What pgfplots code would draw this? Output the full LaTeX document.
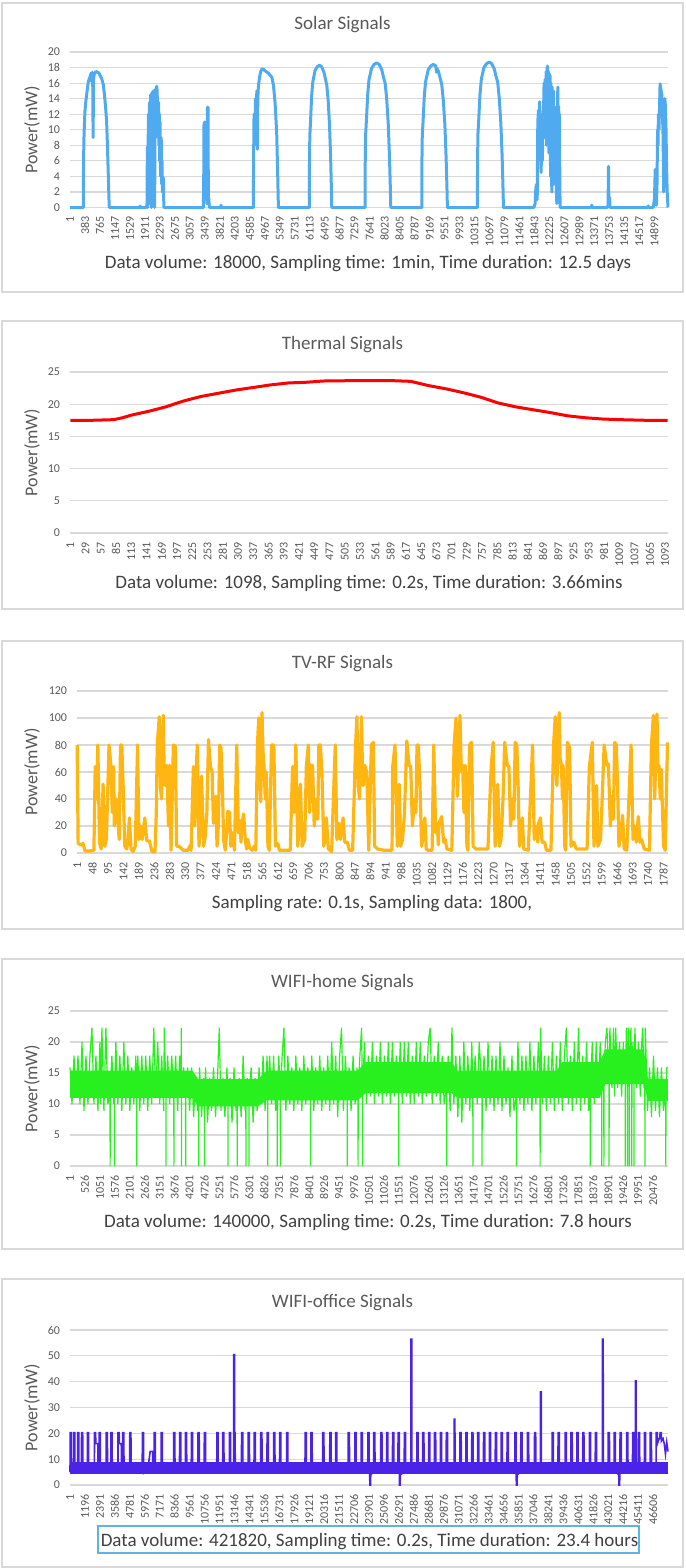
\documentclass[border=0pt]{standalone}
\usepackage{fontspec}
\setmainfont{Carlito}
\usepackage{pgfplots}
\pgfplotsset{compat=1.18}

\definecolor{txt}{HTML}{595959}
\definecolor{captxt}{HTML}{404040}
\definecolor{gridc}{HTML}{D9D9D9}
\definecolor{solar}{HTML}{50AAF0}
\definecolor{thermal}{HTML}{FF0000}
\definecolor{tvrf}{HTML}{FFB612}
\definecolor{wifih}{HTML}{28F01E}
\definecolor{wifio}{HTML}{4A22E8}
\definecolor{capbox}{HTML}{5DB3E6}

\pgfplotsset{
  panel/.style={
    scale only axis, anchor=south west, width=299pt,
    axis line style={draw=none}, major tick length=0pt,
    ymajorgrids, major grid style={gridc, line width=0.6pt},
    clip=false,
    tick label style={txt, font=\fontsize{6}{7}\selectfont},
    /pgf/number format/assume math mode=true,
    scaled x ticks=false, scaled y ticks=false,
    yticklabel style={anchor=east, inner sep=0pt, outer sep=0pt, inner xsep=5pt},
    xticklabel style={rotate=90, anchor=east, inner sep=0pt, outer sep=0pt, inner xsep=4.5pt,
      /pgf/number format/.cd, fixed, precision=0, 1000 sep={}},
    ylabel={Power(mW)},
    ylabel style={at={(axis description cs:-0.0635,0.5)}, anchor=center, txt, font=\fontsize{9}{10}\selectfont},
  },
}
\tikzset{
  ttlnode/.style={anchor=base, txt, font=\fontsize{9.5}{11}\selectfont},
  capnode/.style={anchor=base, captxt, font=\fontsize{9.5}{11}\selectfont},
}

\begin{document}
\begin{tikzpicture}
\path (0,0) rectangle (342.5pt,-784pt);
% panel frames
\draw[gridc, line width=0.6pt] (1pt,-1.5pt) rectangle (341.5pt,-146pt);
\draw[gridc, line width=0.6pt] (1pt,-160.5pt) rectangle (341.5pt,-304.5pt);
\draw[gridc, line width=0.6pt] (1pt,-320.5pt) rectangle (341.5pt,-464.5pt);
\draw[gridc, line width=0.6pt] (1pt,-479.5pt) rectangle (341.5pt,-624.5pt);
\draw[gridc, line width=0.6pt] (1pt,-639.5pt) rectangle (341.5pt,-783.5pt);

% ---------- Solar ----------
\node[ttlnode] at (171.25pt,-14.75pt) {Solar Signals};
\begin{axis}[panel, at={(35pt,-103.75pt)}, height=77.75pt,
  xmin=0.5, xmax=15250.5, ymin=0, ymax=20, ytick={0,2,...,20},
  xtick={1,383,765,1147,1529,1911,2293,2675,3057,3439,3821,4203,4585,4967,5349,5731,6113,6495,6877,7259,7641,8023,8405,8787,9169,9551,9933,10315,10697,11079,11461,11843,12225,12607,12989,13371,13753,14135,14517,14899}]
\addplot[solar, line width=1.5pt, line join=round] coordinates {
(1,0)(330,0)
(340,0)(346,6)(357,9)(370,11)(383,12.5)(408,13.8)(442,15.2)(468,16.2)(510,16.8)(540,17.3)(553,16.2)(570,17.4)(580,16)(590,9)(600,16.5)(621,17.2)(663,17.5)(700,17.4)(740,17.3)(765,17.0)(808,16.6)(850,15.8)(880,14.5)(910,12.8)(935,11)(955,8)(978,4)(995,1)(1003,0)
(1786,0)(1790,0.2)(1800,0)
(1939,0)(1956,0.2)(1965,0.5)(1973,7.8)(1981,0)(1990,2)(1998,12)(2008,5)(2015,0.5)(2024,13.5)(2032,8)(2041,4)(2050,12.5)(2058,14.5)(2066,3)(2075,0)(2084,13)(2092,14.8)(2100,10)(2109,6)(2118,13)(2126,15)(2134,11)(2143,12)(2152,2)(2160,0)(2168,14)(2177,15.2)(2186,9)(2194,13)(2203,14.5)(2211,15.6)(2220,15.2)(2228,14)(2237,12.5)(2245,9)(2254,13)(2262,13.5)(2270,8)(2279,12)(2288,6)(2296,11)(2305,5.5)(2313,4)(2322,9)(2330,8.5)(2340,3)(2347,6)(2355,2)(2364,4)(2372,3.8)(2381,3.8)(2390,1)(2398,0)
(3401,0)(3410,3)(3418,10.9)(3427,4)(3435,11)(3444,2)(3455,9)(3465,10.9)(3472,1)(3480,11)(3490,0.5)(3500,10)(3507,12.9)(3514,5)(3520,12.9)(3529,1)(3540,1.2)(3550,0.3)(3560,0)
(3840,0)(3852,0.3)(3864,0)
(4677,0)(4682,6)(4694,12)(4705,8)(4719,9)(4730,14)(4745,11.5)(4765,15)(4772,9)(4779,7.5)(4790,14)(4804,15.5)(4830,16.6)(4860,17.4)(4889,17.8)(4930,17.8)(4974,17.6)(5020,17.4)(5060,17.3)(5100,17.0)(5145,16.8)(5187,15.8)(5230,13.5)(5272,9.5)(5298,4)(5315,0)
(6105,0)(6108,5.5)(6116,9.2)(6134,11.0)(6162,14.3)(6191,16.1)(6248,17.6)(6305,18.1)(6362,18.3)(6419,18.1)(6476,17.4)(6516,16.5)(6550,15.7)(6585,13.7)(6619,10.6)(6647,6.4)(6665,2.7)(6676,0)
(7526,0)(7529,5.6)(7539,9.3)(7559,11.2)(7592,14.5)(7624,16.4)(7690,17.9)(7755,18.4)(7821,18.6)(7886,18.4)(7952,17.7)(7998,16.7)(8037,16.0)(8076,14.0)(8116,10.8)(8148,6.5)(8168,2.8)(8181,0)
(8971,0)(8974,5.5)(8984,9.2)(9004,11.0)(9036,14.4)(9069,16.2)(9135,17.7)(9200,18.2)(9265,18.4)(9331,18.2)(9345,17.4)(9370,17.8)(9396,17.5)(9442,16.6)(9481,15.8)(9520,13.8)(9560,10.7)(9592,6.4)(9612,2.8)(9625,0)
(10390,0)(10393,5.6)(10403,9.4)(10423,11.2)(10456,14.6)(10490,16.5)(10556,18.0)(10622,18.5)(10689,18.7)(10755,18.5)(10822,17.8)(10868,16.8)(10908,16.1)(10948,14.0)(10988,10.8)(11021,6.5)(11041,2.8)(11054,0)
(11830,0)(11862,0.5)(11880,2.5)(11900,3)(11915,1)(11930,11)(11947,12.5)(11960,7)(11975,13.6)(11990,12)(12005,6)(12015,4.5)(12030,9)(12045,6)(12060,10)(12075,12)(12090,16)(12100,9)(12117,16.5)(12130,11)(12145,17.5)(12155,8)(12165,17.8)(12177,18.2)(12190,13)(12200,17.5)(12212,7)(12225,17.2)(12235,11)(12245,17)(12255,4)(12265,16)(12277,8)(12287,2)(12298,15.5)(12310,5)(12320,14)(12330,15)(12340,3)(12352,13)(12362,6)(12372,12)(12385,9)(12395,12.5)(12405,2)(12415,0.5)(12428,10)(12440,15.5)(12452,5)(12463,13)(12473,8)(12483,12)(12492,3)(12500,0)
(13290,0)(13307,0.3)(13320,0)
(13700,0)(13722,0.3)(13733,5.3)(13742,0.5)(13752,1.3)(13762,1.2)(13772,0)
(14730,0)(14745,0.2)(14760,0)
(14870,0)(14881,0.3)(14905,1)(14924,4.9)(14932,4.9)(14942,0.5)(14955,0.3)(14970,3)(14985,10)(14995,8)(15005,12)(15020,10)(15035,13)(15048,15.9)(15060,15.5)(15075,15)(15094,14.5)(15110,12)(15125,9)(15140,2)(15155,6)(15170,14)(15185,13)(15200,10)(15215,5)(15230,2)(15245,0.5)(15250,0)
};
\end{axis}
\node[capnode] at (184pt,-134pt) {Data volume: 18000, Sampling time: 1min, Time duration: 12.5 days};

% ---------- Thermal ----------
\node[ttlnode] at (171.25pt,-174.5pt) {Thermal Signals};
\begin{axis}[panel, at={(35pt,-266.5pt)}, height=80.5pt,
  xmin=0.5, xmax=1098.5, ymin=0, ymax=25, ytick={0,5,...,25},
  xtick={1,29,57,85,113,141,169,197,225,253,281,309,337,365,393,421,449,477,505,533,561,589,617,645,673,701,729,757,785,813,841,869,897,925,953,981,1009,1037,1065,1093}]
\addplot[thermal, line width=1.5pt, line join=round] coordinates {
(1,17.5)(40,17.5)(81,17.6)(97,17.9)(113,18.3)(145,18.9)(177,19.6)(209,20.5)(241,21.2)(273,21.7)(305,22.2)(337,22.6)(369,23.0)(401,23.3)(433,23.4)(465,23.6)(513,23.65)(594,23.65)(626,23.55)(658,22.9)(690,22.4)(722,21.8)(754,21.1)(786,20.2)(818,19.6)(850,19.15)(882,18.7)(914,18.2)(946,17.9)(978,17.7)(1010,17.6)(1058,17.5)(1098,17.5)
};
\end{axis}
\node[capnode] at (184.5pt,-294pt) {Data volume: 1098, Sampling time: 0.2s, Time duration: 3.66mins};

% ---------- TV-RF ----------
\node[ttlnode] at (171.25pt,-334pt) {TV-RF Signals};
\begin{axis}[panel, at={(38.5pt,-426.5pt)}, width=295.5pt, height=81pt,
  ylabel style={at={(axis description cs:-0.076,0.5)}},
  xmin=0.5, xmax=1800.5, ymin=0, ymax=120, ytick={0,20,...,120},
  xtick={1,48,95,142,189,236,283,330,377,424,471,518,565,612,659,706,753,800,847,894,941,988,1035,1082,1129,1176,1223,1270,1317,1364,1411,1458,1505,1552,1599,1646,1693,1740,1787}]
\addplot[tvrf, line width=1.6pt, line join=round] coordinates {
(1,80)(4,7)(12,6)(19,7)(25,1.5)(40,1.5)(52,2)
(56,64)(60,40)(64,80)(69,8)(74,3)(80,51)(85,5)
(90,10)(98,80)(104,64)(108,30)(112,64)(114,20)(120,40)(125,24)(129,10)(133,80)(137,80)(141,50)(146,5)(152,3)(156,10)(160,26)(165,3)
(171,1)(178,5)(185,80)(189,10)(194,20)(199,10)(203,18)(207,26)(213,9)(221,9)(229,1)(238,1)
(242,30)(245,80)(251,101)(255,48)(258,40)(263,102)(266,60)(269,50)(274,65)(279,20)(282,65)(287,2)(294,80)(300,79)(304,5)
(311,5)(324,2)(338,2)(346,6)(348,2)
(355,64)(359,20)(363,60)(367,80)(372,5)(376,20)(380,57)(386,5)(391,12)(396,30)(401,84)(407,64)(412,60)(416,22)(420,35)(423,42)(427,5)(431,20)(435,80)(439,78)(443,53)(447,10)(452,2)(456,15)(460,31)(465,30)(469,5)(475,15)(480,2)
(487,80)(492,15)(497,24)(500,8)(503,22)(508,29)(513,10)(517,3)(521,10)(526,4)(534,2)(540,5)(545,2)
(550,80)(554,100)(557,60)(560,38)(564,104)(567,75)(570,65)(574,40)(577,60)(582,5)(586,2)(593,80)(600,80)(605,5)
(612,7)(617,2)(650,2)
(657,64)(662,30)(667,80)(673,5)(677,20)(681,51)(686,5)(694,10)(699,64)(705,80)(709,30)(713,65)(718,65)(723,20)(730,40)(734,25)(737,80)(742,80)(747,55)(752,5)(756,10)(760,26)(766,3)(776,1)
(787,80)(792,10)(798,22)(803,10)(807,20)(811,26)(816,8)(824,8)(830,2)(840,2)
(849,80)(853,101)(857,50)(861,40)(867,101)(870,60)(872,50)(877,65)(883,60)(889,2)(897,80)(903,82)(907,5)
(916,3)(936,2)(960,2)
(962,64)(969,80)(976,5)(982,51)(986,5)(992,10)(998,30)(1005,83)(1012,65)(1017,64)(1022,20)(1029,40)(1033,30)(1036,80)(1040,80)(1045,52)(1050,5)(1055,12)(1060,26)(1064,3)(1069,2)
(1082,2)(1087,80)(1093,15)(1098,20)(1101,6)(1103,22)(1111,27)(1117,8)(1122,10)(1127,3)(1142,2)
(1149,80)(1155,100)(1159,42)(1163,70)(1167,102)(1171,60)(1175,65)(1179,30)(1183,65)(1188,5)(1191,2)(1196,80)(1202,82)(1207,5)
(1215,3)(1228,3)(1252,3)
(1262,64)(1268,82)(1274,5)(1278,20)(1282,51)(1287,5)(1292,10)(1298,40)(1303,82)(1311,65)(1316,64)(1321,20)(1327,40)(1331,25)(1335,82)(1340,80)(1344,50)(1348,5)(1352,12)(1357,26)(1361,3)(1375,2)
(1388,80)(1393,10)(1401,20)(1404,8)(1406,22)(1412,26)(1417,8)(1425,8)(1430,2)(1444,2)
(1452,80)(1457,101)(1460,60)(1462,50)(1469,104)(1472,70)(1476,65)(1479,40)(1481,65)(1486,5)(1489,2)(1494,82)(1501,78)(1505,5)
(1514,8)(1521,3)(1554,3)
(1561,64)(1570,82)(1575,5)(1579,25)(1583,50)(1587,5)(1595,10)(1600,40)(1606,80)(1614,65)(1619,66)(1625,20)(1630,42)(1634,25)(1638,82)(1643,80)(1647,50)(1651,5)(1656,12)(1662,28)(1667,3)(1675,2)
(1688,80)(1694,10)(1700,20)(1704,8)(1710,27)(1715,8)(1720,10)(1728,3)(1744,2)
(1750,80)(1756,102)(1760,40)(1763,70)(1767,103)(1770,60)(1773,65)(1777,40)(1780,62)(1787,5)(1792,2)(1799,82)
};
\end{axis}
\node[capnode] at (186pt,-454pt) {Sampling rate: 0.1s, Sampling data: 1800,};

% ---------- WIFI-home ----------
\node[ttlnode] at (171.25pt,-493.5pt) {WIFI-home Signals};
\begin{axis}[panel, at={(35pt,-583pt)}, height=77.5pt,
  xmin=0.5, xmax=21000.5, ymin=0, ymax=25, ytick={0,5,...,25},
  xtick={1,526,1051,1576,2101,2626,3151,3676,4201,4726,5251,5776,6301,6826,7351,7876,8401,8926,9451,9976,10501,11026,11551,12076,12601,13126,13651,14176,14701,15226,15751,16276,16801,17326,17851,18376,18901,19426,19951,20476}]
% dense core of the signal
\addplot[fill=wifih, draw=none] coordinates {
(1,15.4)(4300,15.4)(4500,14)(6600,14)(6900,15.4)(10100,15.4)(10400,16.8)(13400,16.8)(13600,15.4)(17100,15.4)(17300,16.8)(18600,16.8)(18800,18.8)(20150,18.8)(20300,14)(21000,14)
(21000,10.5)(20300,10.5)(20150,13.2)(18800,13.2)(18600,11)(13600,11)(13400,11.8)(10400,11.8)(10100,10.6)(6900,10.6)(6600,9.6)(4500,9.6)(4300,11)(1,11)
};
\addplot[wifih, line width=0.6pt] coordinates {
(1,15.9)(71,10)(141,17.8)(211,11.2)(281,17.8)(351,10)(421,20)(491,8.9)(561,17.8)(631,10)(701,17.8)(771,22.3)(841,10)(911,17.8)(981,8.9)(1051,20)(1081,10)(1121,22.3)(1191,8.9)(1261,22.3)(1331,10)(1406,12)(1410,0)(1414,12)(1471,17.8)(1541,10)(1560,12)(1564,0)(1568,12)(1611,20)(1681,10)(1751,17.8)(1821,8.9)(1891,20)(1961,10)(2031,17.8)(2101,8.9)(2171,15.9)(2241,10)(2311,17.8)(2341,12)(2345,0)(2349,12)(2381,17.8)(2451,8.9)(2521,17.8)(2591,10)(2661,17.8)(2731,8.9)(2801,17.8)(2871,10)(2943,22.3)(3011,11.2)(3081,20)(3151,10)(3221,17.8)(3291,8.9)(3311,22.3)(3369,12)(3373,0)(3377,12)(3431,17.8)(3501,10)(3571,17.8)(3645,12)(3649,0)(3653,12)(3711,17.8)(3781,8.9)(3851,17.8)(3905,12)(3909,22.3)(3913,0)(3917,12)(3991,15.9)(4058,12)(4062,0)(4066,12)(4131,15.9)(4201,8.9)(4271,15.9)
(4341,7.9)(4411,14.2)(4481,8.9)(4518,11)(4522,0)(4526,11)(4551,15.9)(4621,7.9)(4691,14.2)(4718,11)(4722,0)(4726,11)(4761,15.9)(4831,7)(4901,14.2)(4971,8.9)(5041,15.9)(5111,7.9)(5181,14.2)(5243,22.3)(5301,8.9)(5371,14.2)(5441,7.9)(5511,15.9)(5545,11)(5549,0)(5553,11)(5621,14.2)(5691,7)(5761,15.9)(5831,8.9)(5867,11)(5871,0)(5875,11)(5941,14.2)(6011,7.9)(6081,17.8)(6151,8.9)(6174,11)(6178,0)(6182,11)(6221,14.2)(6281,11)(6285,0)(6289,11)(6361,15.9)(6431,7)(6501,14.2)(6571,8.9)(6641,15.9)(6711,10)
(6781,17.8)(6851,8.9)(6921,17.8)(6940,12)(6944,0)(6948,12)(7011,17.8)(7081,10)(7151,17.8)(7221,8.9)(7278,12)(7282,0)(7286,12)(7331,17.8)(7385,12)(7389,0)(7393,12)(7451,17.8)(7512,22.3)(7581,8.9)(7651,17.8)(7721,10)(7791,15.9)(7861,8.9)(7931,17.8)(8001,10)(8071,15.9)(8141,8.9)(8211,17.8)(8281,10)(8351,15.9)(8443,12)(8447,0)(8451,12)(8491,17.8)(8561,8.9)(8631,15.9)(8701,10)(8771,17.8)(8841,8.9)(8911,15.9)(8981,10)(9051,17.8)(9121,8.9)(9191,20)(9261,10)(9331,17.8)(9401,7.9)(9471,17.8)(9535,22.3)(9601,8.9)(9671,17.8)(9731,12)(9735,0)(9739,12)(9801,15.9)(9871,8.9)(9941,17.8)(10011,10)(10081,15.9)(10114,12)(10118,0)(10122,12)(10181,17.8)(10240,22.3)(10267,12)(10271,0)(10275,12)
(10341,20)(10411,10)(10481,17.8)(10551,11.2)(10621,20)(10691,10)(10761,17.8)(10831,11.2)(10901,20)(10971,10)(11041,17.8)(11111,11.2)(11181,20)(11251,10)(11321,20)(11391,11.2)(11461,17.8)(11539,13)(11543,0)(11547,13)(11601,20)(11671,10)(11741,20)(11811,11.2)(11881,20)(11951,10)(12021,17.8)(12091,10)(12161,20)(12231,11.2)(12301,20)(12371,10)(12441,17.8)(12511,11.2)(12581,20)(12647,22.3)(12721,10)(12791,17.8)(12861,11.2)(12931,20)(13001,10)(13071,17.8)(13141,10)(13226,13)(13230,0)(13234,13)(13281,17.8)(13351,8.9)(13414,22.3)(13481,10)
(13551,17.8)(13621,7.9)(13691,17.8)(13761,7)(13831,20)(13901,10)(13971,17.8)(14041,8.9)(14111,20)(14146,12)(14150,0)(14154,12)(14231,17.8)(14301,10)(14371,20)(14468,12)(14472,0)(14476,12)(14541,17.8)(14611,8.9)(14681,20)(14751,10)(14821,17.8)(14891,8.9)(14961,17.8)(15031,10)(15101,20)(15171,8.9)(15241,17.8)(15311,10)(15381,15.9)(15451,7.9)(15521,17.8)(15591,8.9)(15679,12)(15683,0)(15687,12)(15731,20)(15801,10)(15871,17.8)(15941,8.9)(16011,17.8)(16081,10)(16151,20)(16221,8.9)(16291,17.8)(16361,10)(16451,20)(16506,12)(16510,0)(16514,12)(16526,22.3)(16591,10)(16661,17.8)(16731,8.9)(16801,17.8)(16871,10)(16941,20)(17011,8.9)(17081,17.8)(17151,10)(17221,20)(17291,8.9)(17361,17.8)(17430,22.3)(17501,10)(17571,17.8)(17641,8.9)(17711,20)(17781,10)(17860,22.3)(17931,8.9)(18001,17.8)(18071,10)(18141,20)(18211,8.9)(18269,12)(18273,0)(18277,12)(18341,20)(18411,10)(18481,20)(18551,11.2)(18621,20)(18668,13)(18672,0)(18676,13)
(18745,14)(18749,0)(18753,14)(18801,20)(18856,22.3)(18928,14)(18932,0)(18936,14)(18960,22.3)(19031,12.6)(19086,22.3)(19120,11.2)(19163,22.3)(19231,12.6)(19301,20)(19371,11.2)(19431,20)(19496,14)(19500,0)(19504,14)(19540,22.3)(19572,14)(19576,0)(19580,14)(19610,22.3)(19634,14)(19638,0)(19642,14)(19680,20)(19699,22.3)(19726,14)(19730,0)(19734,14)(19770,20)(19802,14)(19806,0)(19810,14)(19840,22.3)(19901,12.6)(19961,20)(20031,11.2)(20080,20)(20113,22.3)(20160,12.6)(20186,14)(20190,0)(20194,14)(20205,22.3)
(20281,8.9)(20351,15.9)(20421,7.9)(20491,17.8)(20561,8.9)(20631,15.9)(20701,7.9)(20771,15.9)(20841,8.9)(20921,12)(20925,0)(20929,12)(20961,15.9)(21000,15.9)
};
\end{axis}
\node[capnode] at (184pt,-613.5pt) {Data volume: 140000, Sampling time: 0.2s, Time duration: 7.8 hours};

% ---------- WIFI-office ----------
\node[ttlnode] at (171.25pt,-653.5pt) {WIFI-office Signals};
\begin{axis}[panel, at={(35pt,-742.5pt)}, height=77.5pt,
  xmin=0.5, xmax=47800.5, ymin=0, ymax=60, ytick={0,10,...,60},
  xtick={1,1196,2391,3586,4781,5976,7171,8366,9561,10756,11951,13146,14341,15536,16731,17926,19121,20316,21511,22706,23901,25096,26291,27486,28681,29876,31071,32266,33461,34656,35851,37046,38241,39436,40631,41826,43021,44216,45411,46606}]
\addplot[fill=wifio, draw=none] coordinates {
(1,8.9)(47800,8.9)(47800,4.3)(1,4.3)
};
\addplot[wifio, line width=0.8pt] coordinates {
(1,5)(20,20.3)(110,20.3)(120,5)
(288,5)(298,20.3)(388,20.3)(398,5)
(602,5)(612,20.3)(702,20.3)(712,5)
(915,5)(925,20.3)(1015,20.3)(1025,5)
(1386,5)(1396,20.3)(1486,20.3)(1496,5)
(1950,5)(1960,20.3)(2050,20.3)(2060,16)(2230,16)(2240,8)
(2326,5)(2336,20.3)(2426,20.3)(2436,5)
(2890,5)(2900,20.3)(2990,20.3)(3000,5)
(3267,5)(3277,20.3)(3367,20.3)(3377,5)
(3831,5)(3841,20.3)(3931,20.3)(3941,16)(4100,16)(4110,8)
(4207,5)(4217,20.3)(4307,20.3)(4317,5)
(4771,5)(4781,20.3)(4871,20.3)(4881,5)
(5775,5)(5785,20.3)(5875,20.3)(5885,5)
(6300,9)(6410,13)(6600,13)(6610,9)
(6715,5)(6725,20.3)(6815,20.3)(6825,5)
(7279,5)(7289,20.3)(7379,20.3)(7389,5)
(8283,5)(8293,20.3)(8383,20.3)(8393,5)
(8753,5)(8763,20.3)(8853,20.3)(8863,5)
(9223,5)(9233,20.3)(9323,20.3)(9333,5)
(9693,5)(9703,20.3)(9793,20.3)(9803,5)
(10226,5)(10236,20.3)(10326,20.3)(10336,5)
(10728,5)(10738,20.3)(10828,20.3)(10838,5)
(11731,5)(11741,20.3)(11831,20.3)(11841,5)
(12201,5)(12211,20.3)(12301,20.3)(12311,5)
(12734,5)(12744,20.3)(12834,20.3)(12844,5)
(13079,5)(13089,50.5)(13149,50.5)(13159,20.3)(13200,20.3)(13210,5)
(13706,5)(13716,20.3)(13806,20.3)(13816,5)
(14239,5)(14249,20.3)(14339,20.3)(14349,5)
(14709,5)(14719,20.3)(14809,20.3)(14819,5)
(15242,5)(15252,20.3)(15342,20.3)(15352,5)
(15744,5)(15754,20.3)(15844,20.3)(15854,5)
(16277,5)(16287,20.3)(16377,20.3)(16387,5)
(16747,5)(16757,20.3)(16847,20.3)(16857,5)
(17311,5)(17321,20.3)(17411,20.3)(17421,5)
(18785,5)(18795,20.3)(18885,20.3)(18895,5)
(19255,5)(19265,20.3)(19355,20.3)(19365,5)
(20196,5)(20206,20.3)(20296,20.3)(20306,5)
(20760,5)(20770,20.3)(20860,20.3)(20870,5)
(21231,5)(21241,20.3)(21331,20.3)(21341,5)
(22234,5)(22244,20.3)(22334,20.3)(22344,5)
(22767,5)(22777,20.3)(22867,20.3)(22877,5)
(23268,5)(23278,20.3)(23368,20.3)(23378,5)
(23801,5)(23811,20.3)(23901,20.3)(23911,5)
(23958,4)(23968,0)(24028,0)(24038,4)
(24271,5)(24281,20.3)(24371,20.3)(24381,5)
(24835,5)(24845,20.3)(24935,20.3)(24945,5)
(25305,5)(25315,20.3)(25405,20.3)(25415,5)
(25776,5)(25786,20.3)(25876,20.3)(25886,5)
(26215,5)(26225,20.3)(26315,20.3)(26325,4)(26330,0)(26390,0)(26400,4)
(26716,5)(26726,20.3)(26816,20.3)(26826,5)
(27249,5)(27259,56.5)(27319,56.5)(27329,5)
(27720,5)(27730,20.3)(27820,20.3)(27830,5)
(28190,5)(28200,20.3)(28290,20.3)(28300,5)
(28660,5)(28670,20.3)(28760,20.3)(28770,5)
(29130,5)(29140,20.3)(29230,20.3)(29240,5)
(29601,5)(29611,20.3)(29701,20.3)(29711,5)
(30071,5)(30081,20.3)(30171,20.3)(30181,5)
(30698,5)(30708,25.5)(30768,25.5)(30778,5)
(31168,5)(31178,20.3)(31268,20.3)(31278,5)
(31638,5)(31648,20.3)(31738,20.3)(31748,5)
(32109,5)(32119,20.3)(32209,20.3)(32219,5)
(32579,5)(32589,20.3)(32679,20.3)(32689,5)
(33049,5)(33059,20.3)(33149,20.3)(33159,5)
(33519,5)(33529,20.3)(33619,20.3)(33629,5)
(33990,5)(34000,20.3)(34090,20.3)(34100,5)
(34460,5)(34470,20.3)(34560,20.3)(34570,5)
(34930,5)(34940,20.3)(35030,20.3)(35040,5)
(35557,5)(35567,20.3)(35657,20.3)(35667,4)(35680,0)(35740,0)(35750,4)
(36027,5)(36037,20.3)(36127,20.3)(36137,5)
(36560,5)(36570,20.3)(36660,20.3)(36670,5)
(37124,5)(37134,20.3)(37224,20.3)(37234,5)
(37595,5)(37605,36)(37665,36)(37675,5)
(38535,5)(38545,20.3)(38635,20.3)(38645,5)
(39005,5)(39015,20.3)(39105,20.3)(39115,5)
(39570,5)(39580,20.3)(39670,20.3)(39680,5)
(40040,5)(40050,20.3)(40140,20.3)(40150,5)
(40510,5)(40520,20.3)(40610,20.3)(40620,5)
(40981,5)(40991,20.3)(41081,20.3)(41091,5)
(41514,5)(41524,20.3)(41614,20.3)(41624,5)
(41984,5)(41994,20.3)(42084,20.3)(42094,5)
(42548,5)(42558,56.5)(42618,56.5)(42628,5)
(43018,5)(43028,20.3)(43118,20.3)(43128,5)
(43489,5)(43499,20.3)(43589,20.3)(43599,5)
(43865,4)(43875,0)(43935,0)(43945,4)
(43959,5)(43969,20.3)(44059,20.3)(44069,5)
(44492,5)(44502,20.3)(44592,20.3)(44602,5)
(44962,5)(44972,20.3)(45062,20.3)(45072,5)
(45182,5)(45192,40.3)(45252,40.3)(45262,5)
(45432,5)(45442,20.3)(45532,20.3)(45542,5)
(45903,5)(45913,20.3)(46003,20.3)(46013,5)
(46373,5)(46383,20.3)(46473,20.3)(46483,5)
(46843,5)(46853,20.3)(46943,20.3)(46953,16)(47100,18)(47157,18)(47167,20.3)(47257,20.3)(47267,17)(47400,18)(47500,16)(47600,12)(47700,16.5)(47800,13)
};
\end{axis}
\draw[capbox, line width=0.6pt] (49pt,-763pt) rectangle (319.5pt,-776.5pt);
\node[capnode] at (184.75pt,-773pt) {Data volume: 421820, Sampling time: 0.2s, Time duration: 23.4 hours};
\end{tikzpicture}
\end{document}
